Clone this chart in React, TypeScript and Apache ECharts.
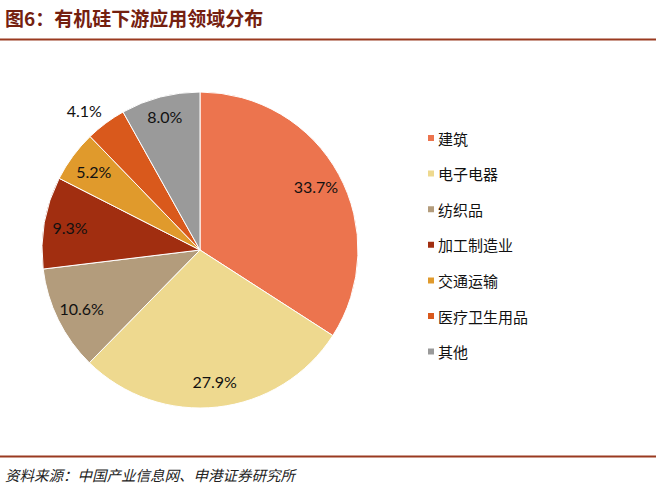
import React, { useEffect, useRef } from "react";
import * as echarts from "echarts";

const categories = ["建筑", "电子电器", "纺织品", "加工制造业", "交通运输", "医疗卫生用品", "其他"];
const values = [33.7, 27.9, 10.6, 9.3, 5.2, 4.1, 8.0];
const colors = ["#EC744E", "#EED98F", "#B39C7C", "#A12E10", "#E09A2C", "#D9591C", "#9A9A9A"];
const labelOffsets: Record<string, number[]> = {
  "医疗卫生用品": [-37, -34],
  "其他": [-2, -6],
};
const titleText = "图6：有机硅下游应用领域分布";
const sourceText = "资料来源：中国产业信息网、申港证券研究所";

export default function App() {
  const ref = useRef<HTMLDivElement>(null);
  useEffect(() => {
    if (!ref.current) return;
    const chart = echarts.init(ref.current, null, { renderer: "svg" });
    const cx = 200, cy = 250, r = 158;
    chart.setOption({
      animation: false,
      backgroundColor: "#ffffff",
      color: colors,
      legend: {
        orient: "vertical",
        left: 426,
        top: 130,
        padding: 0,
        itemWidth: 8,
        itemHeight: 8,
        itemGap: 19.6,
        icon: "rect",
        data: categories,
        textStyle: { fontSize: 15, color: "#111", fontFamily: "Noto Sans CJK SC", lineHeight: 16, padding: [0, 0, 0, -2] },
      },
      graphic: [
        {
          type: "text",
          left: 5,
          top: 8,
          style: { text: titleText, fontSize: 19, fontWeight: "bold", fill: "#74200F", fontFamily: "Noto Sans CJK SC" },
        },
        { type: "line", shape: { x1: 0, y1: 39.5, x2: 656, y2: 39.5 }, style: { stroke: "#9A3A20", lineWidth: 2 } },
        { type: "line", shape: { x1: 0, y1: 456.5, x2: 656, y2: 456.5 }, style: { stroke: "#9A3A20", lineWidth: 2 } },
        {
          type: "text",
          left: 5,
          top: 467,
          style: { text: sourceText, fontSize: 14.5, fontStyle: "italic", fill: "#222", fontFamily: "Noto Sans CJK SC" },
        },
      ],
      series: [
        {
          type: "pie",
          center: [cx, cy],
          radius: [0, r],
          startAngle: 90,
          clockwise: true,
          silent: true,
          label: { show: false },
          labelLine: { show: false },
          itemStyle: { borderColor: "#ffffff", borderWidth: 1 },
          data: categories.map((name, i) => ({ name, value: values[i] })),
        },
        {
          type: "pie",
          center: [cx, cy],
          radius: [100, r],
          startAngle: 90,
          clockwise: true,
          silent: true,
          itemStyle: { color: "transparent" },
          label: {
            show: true,
            position: "inside",
            formatter: (p: any) => p.value.toFixed(1) + "%",
            fontSize: 16,
            color: "#111",
            fontFamily: "Lato",
          },
          labelLine: { show: false },
          data: categories.map((name, i) => ({
            name,
            value: values[i],
            label: labelOffsets[name] ? { offset: labelOffsets[name] } : {},
          })),
        },
      ],
    });
    return () => chart.dispose();
  }, []);
  return <div ref={ref} style={{ position: "absolute", left: 0, top: 0, width: 656, height: 491 }} />;
}
